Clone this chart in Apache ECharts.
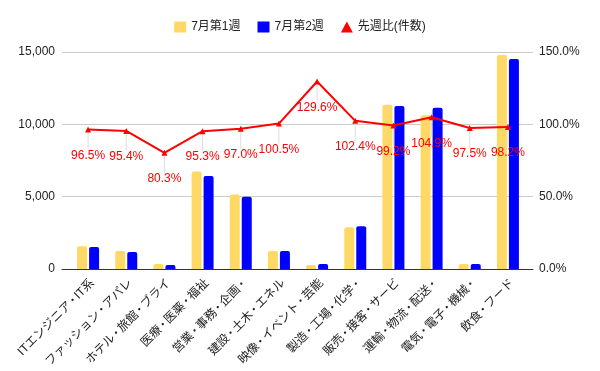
<!DOCTYPE html>
<html>
<head>
<meta charset="utf-8">
<script src="https://cdn.jsdelivr.net/npm/echarts@6/dist/echarts.min.js"></script>
<style>
html,body{margin:0;padding:0;background:#fff;}
#c{width:600px;height:371px;}
</style>
</head>
<body>
<div id="c"></div>
<script>
const categories = ['ITエンジニア・IT系','ファッション・アパレ','ホテル・旅館・ブライ','医療・医薬・福祉','営業・事務・企画・','建設・土木・エネル','映像・イベント・芸能','製造・工場・化学・','販売・接客・サービ','運輸・物流・配送・','電気・電子・機械・','飲食・フード'];
const week1 = [1580, 1240, 350, 6740, 5150, 1240, 270, 2890, 11350, 10630, 350, 14790];
const week2 = [1525, 1183, 281, 6423, 4995, 1246, 350, 2959, 11260, 11150, 341, 14524];
const ratio = [0.965, 0.954, 0.803, 0.953, 0.970, 1.005, 1.296, 1.024, 0.992, 1.049, 0.975, 0.982];
const leftTicks = {min: 0, max: 15000, interval: 5000};
const rightTicks = {min: 0, max: 1.5, interval: 0.5};
const seriesNames = ['7月第1週', '7月第2週', '先週比(件数)'];

const FONT = "'Liberation Sans', 'Noto Sans CJK JP', sans-serif";
const chart = echarts.init(document.getElementById('c'), null, {renderer: 'canvas'});
chart.setOption({
  animation: false,
  textStyle: {fontFamily: FONT},
  legend: {
    top: 16, left: 'center',
    itemWidth: 12, itemHeight: 11, itemGap: 17,
    textStyle: {fontSize: 12, color: '#222', fontFamily: FONT},
    data: [
      {name: seriesNames[0], icon: 'rect'},
      {name: seriesNames[1], icon: 'rect'},
      {name: seriesNames[2], icon: 'triangle'}
    ]
  },
  grid: [
    {left: 62, right: 67, top: 52, bottom: 102},
    {left: 69, right: 73, top: 52, bottom: 102}
  ],
  xAxis: [
    {gridIndex: 0, type: 'category', data: [''], axisLine: {show: true, lineStyle: {color: '#333', width: 1}},
     axisTick: {show: false}, axisLabel: {show: false}, splitLine: {show: false}},
    {gridIndex: 1, type: 'category', data: categories, axisLine: {show: false}, axisTick: {show: false},
     axisLabel: {rotate: 45, fontSize: 12, color: '#222', margin: 8, interval: 0, fontFamily: FONT,
       verticalAlign: 'top',
       formatter: v => v.split('・').map(s => s ? '{t|' + s + '}' : '').join('{d|・}'),
       rich: {
         t: {fontSize: 12, color: '#222', fontFamily: FONT, verticalAlign: 'middle'},
         d: {fontSize: 9, fontWeight: 'bold', color: '#222', fontFamily: FONT, verticalAlign: 'middle'}
       }}}
  ],
  yAxis: [
    {gridIndex: 0, type: 'value', position: 'left', min: leftTicks.min, max: leftTicks.max, interval: leftTicks.interval,
     axisLine: {show: false}, axisTick: {show: false},
     axisLabel: {fontSize: 12, color: '#222', margin: 7, fontFamily: FONT,
       formatter: v => v.toLocaleString('en-US')},
     splitLine: {lineStyle: {color: '#cccccc', width: 1}}},
    {gridIndex: 0, type: 'value', position: 'right', min: rightTicks.min, max: rightTicks.max, interval: rightTicks.interval,
     axisLine: {show: false}, axisTick: {show: false},
     axisLabel: {fontSize: 12, color: '#222', margin: 6, fontFamily: FONT,
       formatter: v => (v * 100).toFixed(1) + '%'},
     splitLine: {show: false}},
    {gridIndex: 1, type: 'value', min: leftTicks.min, max: leftTicks.max, show: false},
    {gridIndex: 1, type: 'value', min: rightTicks.min, max: rightTicks.max, show: false}
  ],
  series: [
    {name: seriesNames[0], type: 'bar', xAxisIndex: 1, yAxisIndex: 2, data: week1,
     barWidth: 10, barGap: '20%', itemStyle: {color: '#ffd966', borderRadius: [2, 2, 0, 0]}},
    {name: seriesNames[1], type: 'bar', xAxisIndex: 1, yAxisIndex: 2, data: week2,
     barWidth: 10, barGap: '20%', itemStyle: {color: '#0000ff', borderRadius: [2, 2, 0, 0]}},
    {name: seriesNames[2], type: 'line', xAxisIndex: 1, yAxisIndex: 3, data: ratio,
     symbol: 'triangle', symbolSize: 6, z: 5,
     lineStyle: {color: '#ff0000', width: 2}, itemStyle: {color: '#ff0000'},
     label: {show: true, position: 'bottom', distance: 5, color: '#ff0000', fontSize: 12, fontFamily: FONT,
       formatter: p => (p.value * 100).toFixed(1) + '%'},
     labelLayout: {dy: 12},
     labelLine: {show: true, lineStyle: {color: '#dddddd', width: 1}}}
  ]
});
</script>
</body>
</html>
